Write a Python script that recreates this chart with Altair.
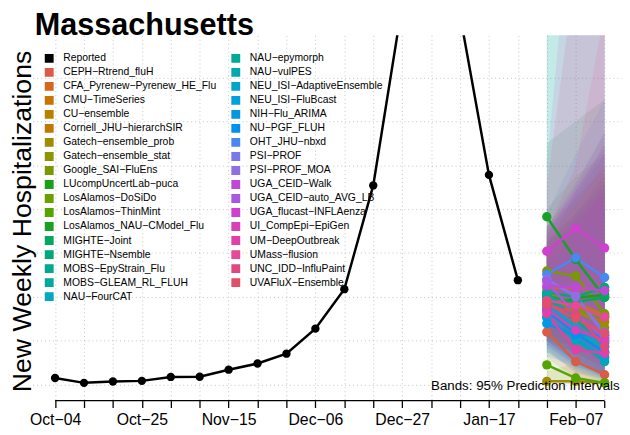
import altair as alt
import pandas as pd

title_text = ["Massachusetts"]
note_text = ["Bands: 95% Prediction Intervals"]
y_title = "New Weekly Hospitalizations"

reported_dates = ["2025-10-04", "2025-10-11", "2025-10-18", "2025-10-25", "2025-11-01",
                  "2025-11-08", "2025-11-15", "2025-11-22", "2025-11-29", "2025-12-06",
                  "2025-12-13", "2025-12-20", "2025-12-27", "2026-01-03", "2026-01-10",
                  "2026-01-17", "2026-01-24"]
reported_values = [30, 8, 14, 17, 35, 36, 68, 96, 141, 255, 435, 908, 1731, 2150, 1686, 956, 476]

forecast_dates = ["2026-01-31", "2026-02-07", "2026-02-14"]
tick_dates = pd.date_range("2025-10-04", "2026-02-14", freq="7D", tz="UTC")

models = ["CEPH-Rtrend_fluH", "CFA_Pyrenew-Pyrenew_HE_Flu", "CMU-TimeSeries", "CU-ensemble",
          "Cornell_JHU-hierarchSIR", "Gatech-ensemble_prob", "Gatech-ensemble_stat",
          "Google_SAI-FluEns", "LUcompUncertLab-puca", "LosAlamos-DoSiDo", "LosAlamos-ThinMint",
          "LosAlamos_NAU-CModel_Flu", "MIGHTE-Joint", "MIGHTE-Nsemble", "MOBS-EpyStrain_Flu",
          "MOBS-GLEAM_RL_FLUH", "NAU-FourCAT", "NAU-epymorph", "NAU-vulPES",
          "NEU_ISI-AdaptiveEnsemble", "NEU_ISI-FluBcast", "NIH-Flu_ARIMA", "NU-PGF_FLUH",
          "OHT_JHU-nbxd", "PSI-PROF", "PSI-PROF_MOA", "UGA_CEID-Walk", "UGA_CEID-auto_AVG_LB",
          "UGA_flucast-INFLAenza", "UI_CompEpi-EpiGen", "UM-DeepOutbreak", "UMass-flusion",
          "UNC_IDD-InfluPaint", "UVAFluX-Ensemble"]
model_colors = ["#DB5A48", "#D6661E", "#C87400", "#B88000", "#C07800", "#A08C00", "#8E9400",
                "#7A9800", "#18A018", "#68A000", "#56A400", "#18A028", "#00A860", "#00A878",
                "#00A890", "#00A8A0", "#00A8C0", "#00A898", "#00A8B0", "#00A6C8", "#00A0D8",
                "#0098E0", "#0090EE", "#4888F0", "#7878E8", "#9070E0", "#C048D8", "#A858E0",
                "#D040D0", "#D840B8", "#E040A8", "#E84898", "#E04880", "#E05068"]

med_h1 = [240, 440, 395, 415, 372, 15, 395, 518, 350, 395, 90, 765, 405, 420, 398, 420, 345,
          385, 308, 368, 305, 278, 335, 503, 478, 480, 450, 470, 608, 345, 323, 383, 368, 370]
med_h2 = [105, 440, 350, 372, 330, 15, 345, 495, 395, 345, 30, 570, 375, 400, 300, 293, 255,
          290, 203, 262, 215, 225, 232, 578, 400, 405, 443, 318, 713, 248, 158, 360, 323, 300]
med_h3 = [45, 428, 310, 318, 285, 8, 260, 323, 410, 305, 8, 398, 398, 443, 215, 188, 150,
          195, 105, 173, 125, 225, 148, 488, 240, 225, 428, 210, 623, 203, 143, 308, 173, 235]

lo_h1 = [120, 260, 220, 230, 200, 0, 210, 300, 200, 210, 10, 450, 240, 250, 220, 200, 180,
         200, 150, 190, 150, 130, 170, 300, 260, 270, 260, 260, 380, 180, 160, 220, 200, 200]
lo_h2 = [30, 200, 150, 160, 140, 0, 140, 250, 180, 140, 0, 250, 160, 180, 120, 100, 90,
         110, 60, 100, 70, 80, 80, 280, 170, 180, 200, 120, 350, 90, 50, 150, 110, 110]
lo_h3 = [0, 150, 100, 100, 80, 0, 80, 110, 130, 90, 0, 120, 140, 160, 50, 40, 30,
         50, 10, 40, 20, 50, 30, 180, 50, 60, 160, 40, 220, 50, 30, 80, 30, 50]

hi_h1 = [560, 700, 650, 720, 620, 60, 640, 800, 620, 650, 250, 1100, 680, 720, 660, 2000, 600,
         1700, 560, 640, 560, 520, 600, 780, 700, 720, 680, 720, 1000, 620, 600, 700, 900, 660]
hi_h2 = [480, 850, 780, 850, 760, 100, 780, 950, 880, 780, 280, 1200, 860, 920, 780, 2200, 740,
         1800, 650, 780, 700, 700, 740, 1050, 880, 900, 900, 880, 2400, 760, 720, 1000, 1900, 820]
hi_h3 = [560, 1000, 920, 980, 900, 160, 950, 1050, 1100, 960, 320, 1300, 1050, 1150, 920, 2400, 880,
         1900, 780, 920, 820, 900, 880, 1300, 1050, 1080, 1150, 1080, 3000, 920, 880, 1700, 2600, 1000]

# ---- tables ----
rows = []
for i, m in enumerate(models):
    for d, md, lo, hi in zip(forecast_dates,
                             (med_h1[i], med_h2[i], med_h3[i]),
                             (lo_h1[i], lo_h2[i], lo_h3[i]),
                             (hi_h1[i], hi_h2[i], hi_h3[i])):
        rows.append({"date": d, "model": m, "median": md, "lower": lo, "upper": hi})
fc = pd.DataFrame(rows)
rep = pd.DataFrame({"date": reported_dates, "value": reported_values, "model": "Reported"})

leg_domain = ["Reported"] + models
leg_range = ["#000000"] + model_colors
color_scale = alt.Scale(domain=leg_domain, range=leg_range)

W, H = 597, 370
t0 = pd.Timestamp("2025-10-04", tz="UTC")
t_end = pd.Timestamp("2026-02-14", tz="UTC")
x_lo = int((t0 - pd.Timedelta(days=5.42)).timestamp() * 1000)
x_hi = int((t_end + pd.Timedelta(days=4.2)).timestamp() * 1000)
tick_ms = [int(t.timestamp() * 1000) for t in tick_dates]
t0_ms = tick_ms[0]

FONT = "Liberation Sans"
GRID = "#c4c4c4"

xs = alt.Scale(type="utc", domain=[x_lo, x_hi])
x_axis = alt.Axis(values=tick_ms, title=None, grid=True, gridDash=[1, 3], gridColor=GRID,
                  gridWidth=1, domain=False, ticks=True, tickSize=7, tickColor="black",
                  tickWidth=1.3, labelFont=FONT, labelFontSize=16, labelColor="black",
                  labelBaseline="alphabetic", labelPadding=17, labelOverlap=False,
                  labelFlush=False,
                  labelExpr=f"(round((datum.value - {t0_ms})/604800000) % 3 == 0) ? utcFormat(datum.value, '%b\u2212%d') : ''")
ys = alt.Scale(domain=[-73, 1592], nice=False, zero=False)
y_axis = alt.Axis(values=[0, 200, 400, 600, 800, 1000, 1200, 1400], title=y_title,
                  labels=False, ticks=False, domain=False, grid=True, gridDash=[1, 3],
                  gridColor=GRID, gridWidth=1, titleFont=FONT, titleFontSize=27,
                  titleFontWeight="normal", titleColor="black", titleAngle=270,
                  titleX=-2, titleY=188, titleAlign="center", titleBaseline="alphabetic")

legend = alt.Legend(title=None, orient="none", legendX=11.5, legendY=18, columns=2,
                    symbolType="square", symbolSize=56, symbolStrokeColor="black",
                    symbolStrokeWidth=1.5, symbolOpacity=1, labelFont=FONT, labelFontSize=10.5,
                    labelColor="black", labelLimit=400, labelOffset=9, rowPadding=0.2,
                    columnPadding=12, padding=0, symbolLimit=50,
                    labelExpr="replace(datum.label, '-', '\u2212')")
legend_layer = alt.Chart(fc).transform_filter("false").mark_square(
    size=56, opacity=1, filled=True).encode(
    x=alt.X("date:T", scale=xs, axis=x_axis),
    y=alt.Y("median:Q", scale=ys, axis=y_axis),
    fill=alt.Fill("model:N", scale=color_scale, legend=legend),
)

bands = alt.Chart(fc).mark_area(opacity=0.12, clip=True).encode(
    x=alt.X("date:T", scale=xs, axis=x_axis),
    y=alt.Y("lower:Q", scale=ys, axis=y_axis),
    y2="upper:Q",
    color=alt.Color("model:N", scale=color_scale, legend=None),
)

axis_line = alt.Chart(pd.DataFrame({"start": [tick_dates[0]], "end": [tick_dates[-1]]})).mark_rule(
    color="black", strokeWidth=1.3).encode(
    x=alt.X("start:T", scale=xs, axis=x_axis),
    x2="end:T",
    y=alt.value(H),
)

rep_line = alt.Chart(rep).mark_line(strokeWidth=2.5, clip=True).encode(
    x=alt.X("date:T", scale=xs, axis=x_axis),
    y=alt.Y("value:Q", scale=ys, axis=y_axis),
    color=alt.Color("model:N", scale=color_scale, legend=None),
)
rep_pts = alt.Chart(rep).mark_circle(size=72, opacity=1, clip=True).encode(
    x=alt.X("date:T", scale=xs, axis=x_axis),
    y=alt.Y("value:Q", scale=ys, axis=y_axis),
    color=alt.Color("model:N", scale=color_scale, legend=None),
)

fc_lines = alt.Chart(fc).mark_line(strokeWidth=2.5, clip=True).encode(
    x=alt.X("date:T", scale=xs, axis=x_axis),
    y=alt.Y("median:Q", scale=ys, axis=y_axis),
    color=alt.Color("model:N", scale=color_scale, legend=None),
)
fc_pts = alt.Chart(fc).mark_circle(size=90, opacity=1, clip=True).encode(
    x=alt.X("date:T", scale=xs, axis=x_axis),
    y=alt.Y("median:Q", scale=ys, axis=y_axis),
    color=alt.Color("model:N", scale=color_scale, legend=None),
)

title = alt.Chart(pd.DataFrame({"t": title_text})).mark_text(
    font=FONT, fontSize=31, fontWeight="bold", align="left", baseline="alphabetic",
    color="black").encode(text="t:N", x=alt.value(2), y=alt.value(0))

note = alt.Chart(pd.DataFrame({"t": note_text})).mark_text(
    font=FONT, fontSize=13.5, align="right", baseline="alphabetic",
    color="black").encode(text="t:N", x=alt.value(594.7), y=alt.value(359))

chart = alt.layer(
    legend_layer, bands, axis_line, rep_line, rep_pts, fc_lines, fc_pts, note, title
).properties(
    width=W, height=H,
    padding={"left": 25, "top": 25, "right": 0, "bottom": 24},
    autosize=alt.AutoSizeParams(type="none"),
    background="white",
).configure_view(stroke=None).configure_legend(
    symbolStrokeColor="black", symbolStrokeWidth=1.5
)

chart.save("out.html", embed_options={"renderer": "svg", "actions": False})
